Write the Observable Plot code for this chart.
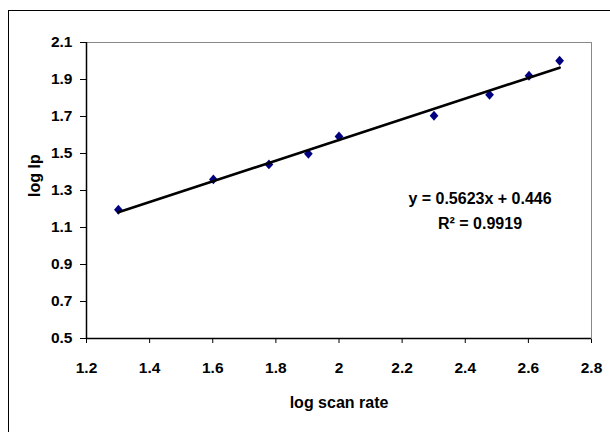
<!DOCTYPE html>
<html>
<head>
<meta charset="utf-8">
<script src="https://cdn.jsdelivr.net/npm/d3@7"></script>
<script src="https://cdn.jsdelivr.net/npm/@observablehq/plot@0.6"></script>
<style>
  html, body { margin: 0; padding: 0; background: #fff; }
  #wrap { position: relative; width: 610px; height: 432px; overflow: hidden; }
  #border { position: absolute; left: 8px; top: 10px; width: 700px; height: 500px;
            border-left: 1px solid #000; border-top: 1px solid #000; pointer-events: none; }
</style>
</head>
<body>
<div id="wrap"><div id="border"></div></div>
<script>
// Data
const logScanRate = [1.301, 1.602, 1.778, 1.903, 2.0, 2.301, 2.477, 2.602, 2.699];
const logIp       = [1.196, 1.360, 1.441, 1.498, 1.592, 1.704, 1.817, 1.920, 2.001];
const xTicks = [1.2, 1.4, 1.6, 1.8, 2.0, 2.2, 2.4, 2.6, 2.8];
const yTicks = [0.5, 0.7, 0.9, 1.1, 1.3, 1.5, 1.7, 1.9, 2.1];
const equationText = ["y = 0.5623x + 0.446\nR² = 0.9919"];
const xTitle = ["log scan rate"];
const yTitle = ["log Ip"];

const data = logScanRate.map((x, i) => ({x, y: logIp[i]}));
const fmt = d => String(Math.round(d * 10) / 10);

const diamond = {
  draw(ctx, size) {
    const s = Math.sqrt(size / Math.PI);
    ctx.moveTo(0, -s * 1.1);
    ctx.lineTo(s * 0.97, 0);
    ctx.lineTo(0, s * 1.1);
    ctx.lineTo(-s * 0.97, 0);
    ctx.closePath();
  }
};

const font = "'Liberation Sans', Arial, sans-serif";

const chart = Plot.plot({
  width: 610,
  height: 432,
  marginLeft: 86,
  marginTop: 42,
  marginRight: 19,
  marginBottom: 94,
  style: {fontFamily: font, fontSize: "15.5px", fontWeight: "bold", color: "#000", background: "transparent", overflow: "visible"},
  x: {domain: [1.2, 2.8], ticks: xTicks, tickFormat: fmt, tickSize: 5, tickPadding: 18, label: null},
  y: {domain: [0.5, 2.1], ticks: yTicks, tickFormat: fmt, tickSize: 6, tickPadding: 8, label: null},
  marks: [
    Plot.frame({stroke: "#888", strokeWidth: 1}),
    Plot.ruleY([yTicks[0]], {stroke: "#000", strokeWidth: 1.5}),
    Plot.ruleX([xTicks[0]], {stroke: "#000", strokeWidth: 1.5}),
    Plot.dot(data, {x: "x", y: "y", symbol: diamond, r: 4.5, fill: "#000080", stroke: "none"}),
    Plot.linearRegressionY(data, {x: "x", y: "y", stroke: "#000", strokeWidth: 2.6, ci: 0}),
    Plot.text(equationText, {frameAnchor: "right", textAnchor: "middle", lineAnchor: "middle",
      dx: -111.5, dy: 17.5, lineHeight: 1.5625, fontSize: 16, fontWeight: "bold", fill: "#000"}),
    Plot.text(xTitle, {frameAnchor: "bottom", lineAnchor: "middle", dy: 64, fontSize: 16, fontWeight: "bold", fill: "#000"}),
    Plot.text(yTitle, {frameAnchor: "left", lineAnchor: "middle", rotate: -90, dx: -52, dy: 6.5, fontSize: 16, fontWeight: "bold", fill: "#000"})
  ]
});
chart.style.position = "absolute";
chart.style.left = "0px";
chart.style.top = "0px";
document.getElementById("wrap").prepend(chart);
</script>
</body>
</html>
